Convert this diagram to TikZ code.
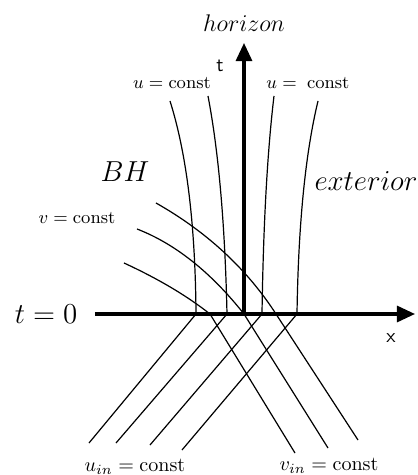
\documentclass[tikz,border=0pt]{standalone}
\usepackage{amsmath,amssymb}
\usetikzlibrary{arrows.meta}

\begin{document}
\begin{tikzpicture}[scale=0.7,
    axis/.style={line width=1.5pt, -{Triangle[length=9pt,width=8pt]}},
    ray/.style={line width=0.6pt}]
    \useasboundingbox (-6.1,-4.025) rectangle (4.325,7.85);
    % t and x axes
    \draw[axis] (-3.725,0) -- (4.275,0);
    \draw[axis] (0,0) -- (0,6.775);
    % u = const lines, turning into u_in = const below t=0
    \foreach \xa/\ya/\xc/\yc/\xe/\ye/\xb/\xd/\yd in {
        -1.85/5.325/-1.433/4.008/-1.217/2.233/-1.2/-3.875/-3.225,
        -0.9/5.45/-0.633/4.05/-0.475/2.233/-0.425/-3.2/-3.225,
        0.75/5.45/0.583/4.05/0.483/2.233/0.45/-2.35/-3.275,
        1.85/5.325/1.533/4.008/1.358/2.233/1.325/-1.55/-3.4} {
        \draw[ray] (\xa,\ya) .. controls (\xc,\yc) and (\xe,\ye) .. (\xb,0) -- (\xd,\yd);
    }
    % v = const lines, turning into v_in = const
    \foreach \xa/\ya/\xc/\yc/\xe/\ye/\xb/\xd/\yd in {
        -2.2/2.775/-0.933/2.058/0.067/1.133/0.8/2.85/-3.15,
        -2.675/2.125/-1.725/1.758/-0.833/1.05/0/2.1/-3.35,
        -3.0/1.275/-2.147/0.882/-1.43/0.457/-0.85/1.275/-3.475} {
        \draw[ray] (\xa,\ya) .. controls (\xc,\yc) and (\xe,\ye) .. (\xb,0) -- (\xd,\yd);
    }
    % labels
    \node (hor) at (0,7.275) {\large$horizon$};
    \node[font=\sffamily] (tlab) at (-0.6,6.2) {t};
    \node[font=\sffamily] (xlab) at (3.675,-0.6) {x};
    \node (uleft) at (-1.8,5.775) {\small$u=\mathrm{const}$};
    \node (uright) at (1.6,5.775) {\small$u=\;\mathrm{const}$};
    \node (bh) at (-2.975,3.55) {\fontsize{13.5}{16}\selectfont$BH$};
    \node (ext) at (3.05,3.325) {\fontsize{13.5}{16}\selectfont$exterior$};
    \node (vlab) at (-4.175,2.4) {\small$v=\mathrm{const}$};
    \node (tzero) at (-4.95,0) {\Large$t=0$};
    \node (uin) at (-2.725,-3.825) {$u_{in}=\mathrm{const}$};
    \node (vin) at (2.125,-3.8) {$v_{in}=\mathrm{const}$};
\end{tikzpicture}
\end{document}
